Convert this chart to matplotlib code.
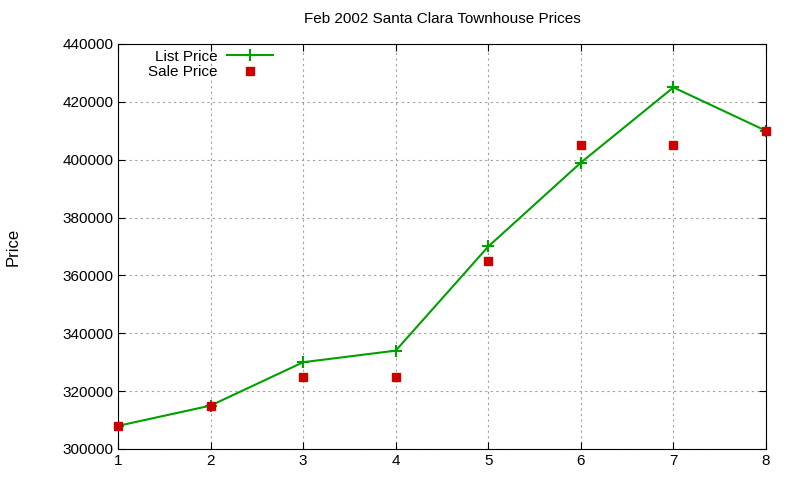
import matplotlib
matplotlib.use("Agg")
import matplotlib.pyplot as plt

x = [1, 2, 3, 4, 5, 6, 7, 8]
list_price = [308000, 315000, 330000, 334000, 370000, 399000, 425000, 410000]
sale_price = [308000, 315000, 325000, 325000, 365000, 405000, 405000, 410000]
yticks = [300000, 320000, 340000, 360000, 380000, 400000, 420000, 440000]

plt.rcParams['font.family'] = ['Liberation Sans', 'DejaVu Sans']
fig = plt.figure(figsize=(8, 4.8), dpi=100)
ax = fig.add_axes([118/800, 1-449/480, (766-118)/800, (449-44)/480])
ax.plot(x, list_price, color='#00a000', marker='+', markersize=8, mew=1.5, lw=1.5, label='List Price')
ax.plot(x, sale_price, color='#cc0000', marker='s', markersize=6, ls='none', label='Sale Price', clip_on=False, zorder=3)
ax.set_xlim(1, 8)
ax.set_ylim(300000, 440000)
ax.set_yticks(yticks)
ax.set_xticks(x)
ax.grid(True, color='#a0a0a0', ls=(0, (2, 3)), lw=0.8)
ax.tick_params(direction='in', labelsize=11, top=True, right=True, length=5)
ax.set_ylabel('Price', fontsize=12, labelpad=30)
ax.set_title('Feb 2002 Santa Clara Townhouse Prices', fontsize=11, pad=15)
ax.legend(loc='upper left', bbox_to_anchor=(0.035, 1.005), frameon=False, markerfirst=False,
          fontsize=11, handlelength=3, borderaxespad=0.1, labelspacing=0.1, handletextpad=0.6)
fig.savefig('out.png')
